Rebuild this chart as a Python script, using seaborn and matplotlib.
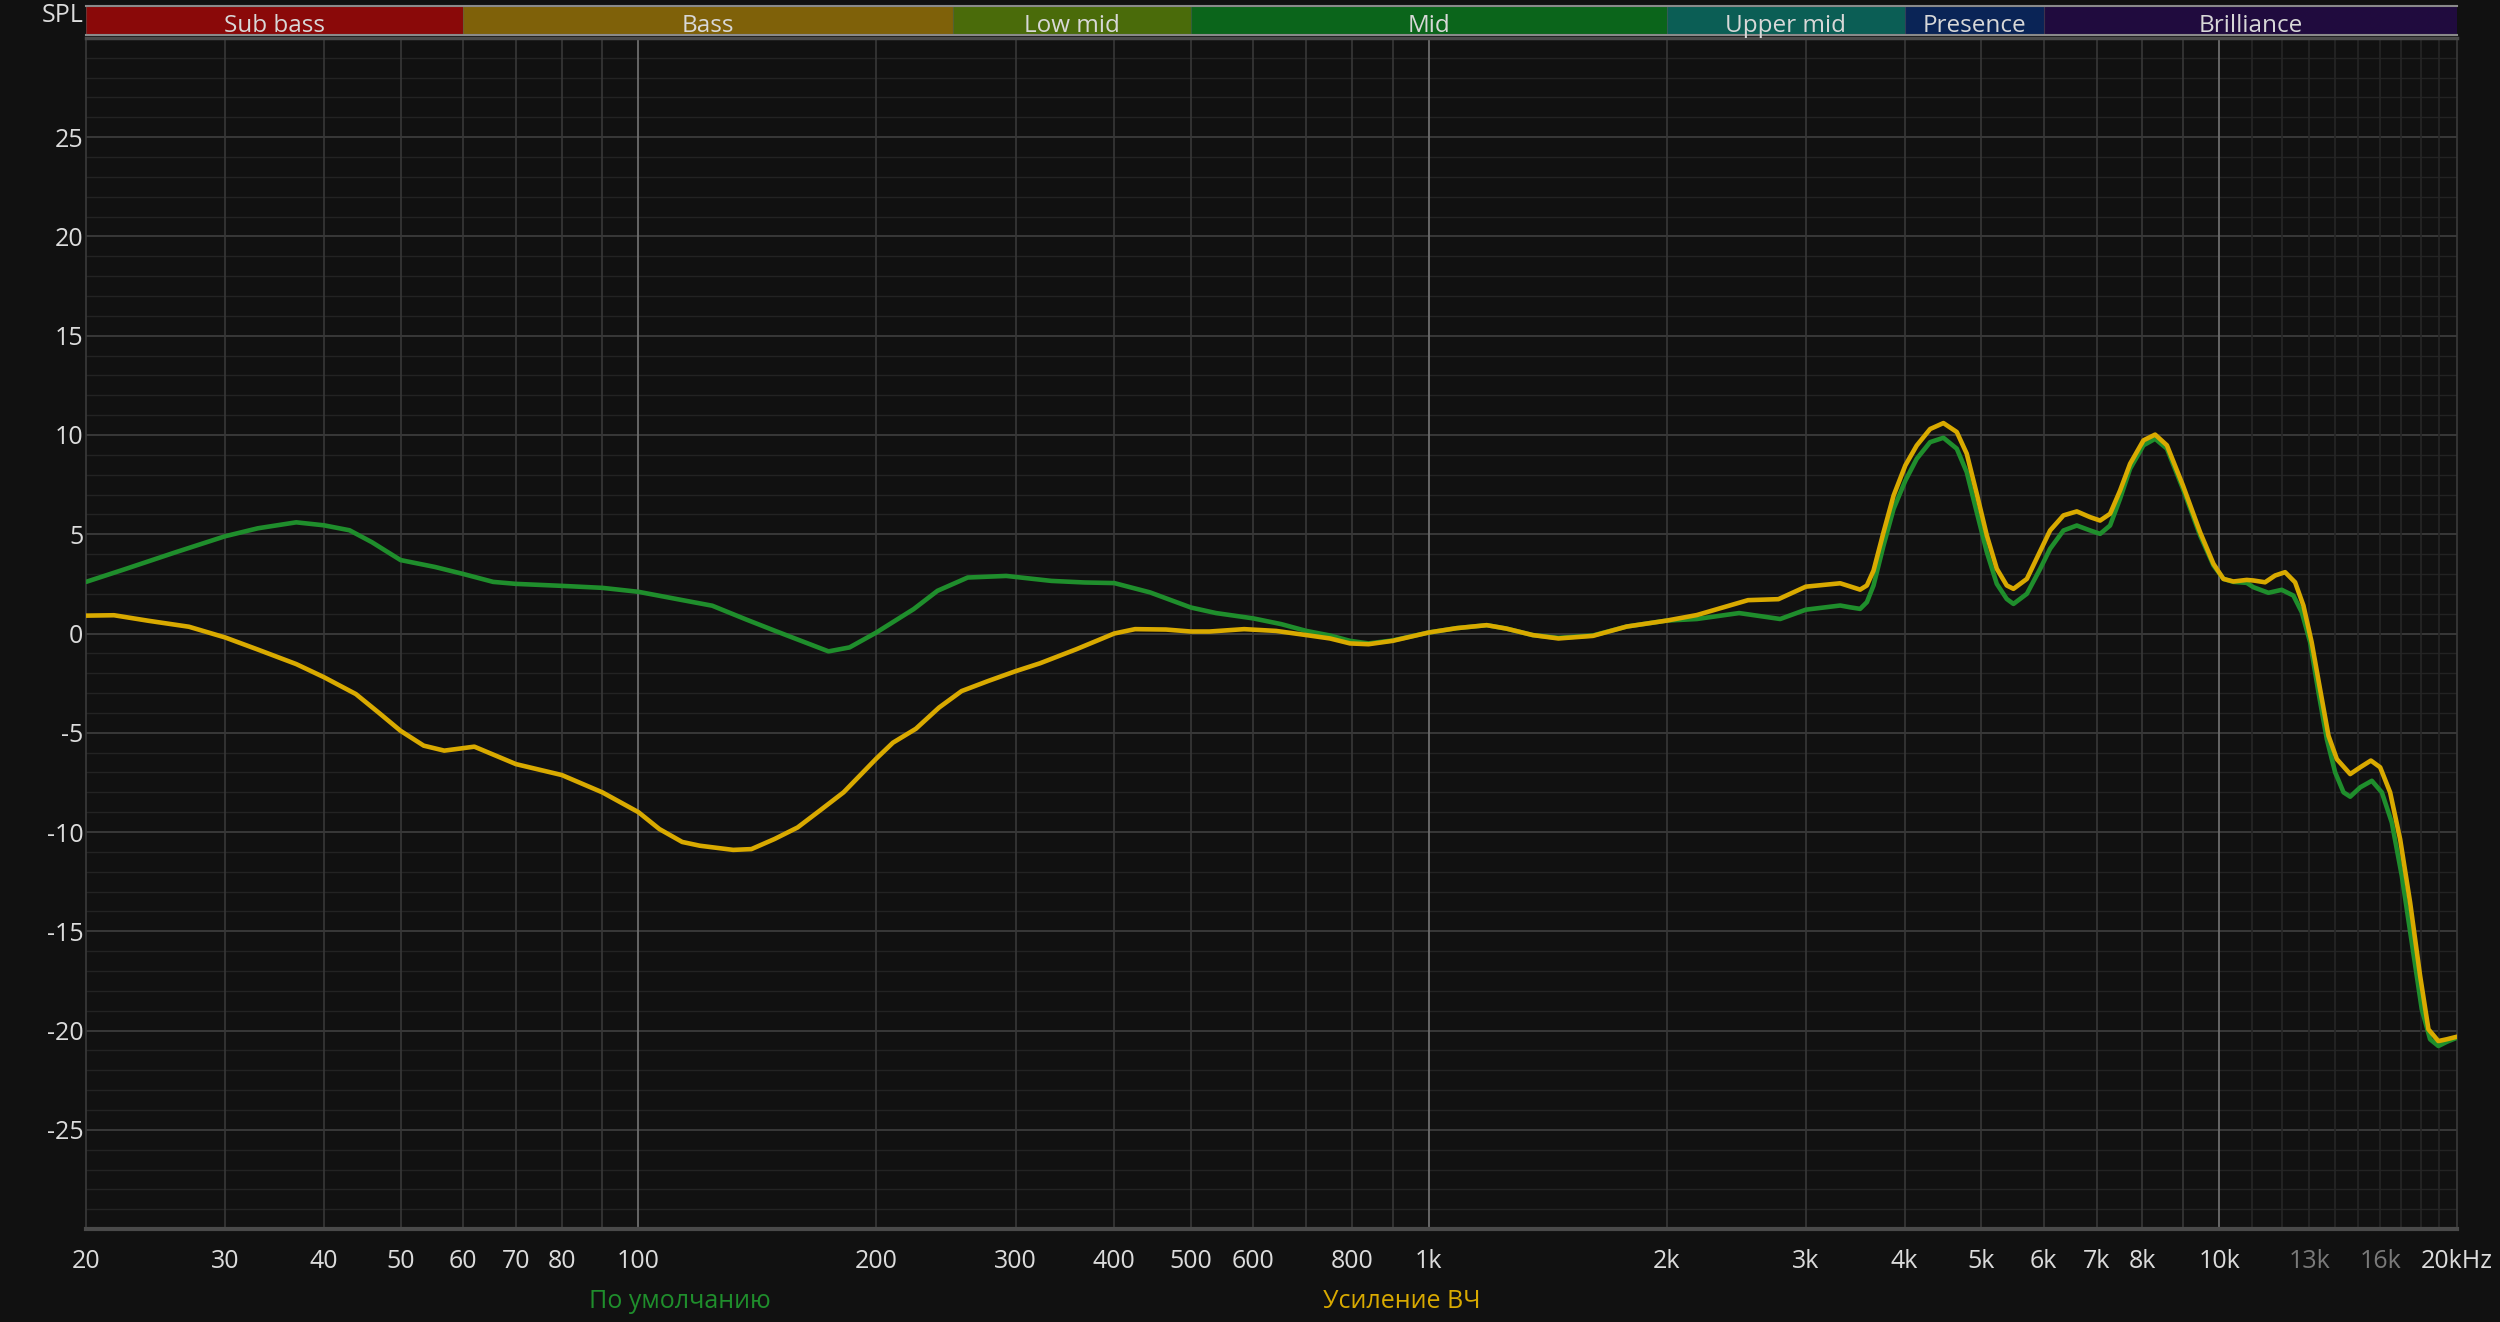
import numpy as np
import pandas as pd
import matplotlib
matplotlib.use("Agg")
import matplotlib.pyplot as plt
import seaborn as sns

# Frequency bands shown in the strip above the plot
band_names = ["Sub bass", "Bass", "Low mid", "Mid", "Upper mid", "Presence", "Brilliance"]
band_edges = [20, 60, 250, 500, 2000, 4000, 6000, 20000]
band_colors = ["#8a0909", "#7f6109", "#4a6b0a", "#0b651b", "#0b5e55", "#0a2456", "#200b3e"]

# X tick labels
tick_freqs = [20, 30, 40, 50, 60, 70, 80, 100, 200, 300, 400, 500, 600, 800,
              1000, 2000, 3000, 4000, 5000, 6000, 7000, 8000, 10000, 13000, 16000, 20000]
tick_labels = ["20", "30", "40", "50", "60", "70", "80", "100", "200", "300", "400", "500", "600", "800",
               "1k", "2k", "3k", "4k", "5k", "6k", "7k", "8k", "10k", "13k", "16k", "20kHz"]
dim_labels = ["13k", "16k"]
y_ticks = [25, 20, 15, 10, 5, 0, -5, -10, -15, -20, -25]

# Series names
series_names = ["По умолчанию", "Усиление ВЧ"]
series_colors = ["#1f8e2c", "#d9aa00"]

# "По умолчанию" (default) response
default_freq = [20, 22.4, 26, 30, 33, 36.9, 40, 43.1, 46, 50, 55.3, 60, 65.5, 70, 80, 90, 100,
                112, 124, 137, 149, 174, 185, 200, 223, 239, 261, 292, 333, 367, 400, 444, 500,
                538, 600, 651, 700, 750, 795, 839, 900, 1000, 1085, 1184, 1253, 1354, 1459, 1613,
                1780, 2000, 2184, 2470, 2784, 3000, 3316, 3414, 3514, 3584, 3654, 3762, 3874, 4009,
                4144, 4309, 4479, 4657, 4794, 4936, 5083, 5233, 5387, 5493, 5712, 5938, 6112, 6355,
                6607, 6869, 7071, 7279, 7494, 7716, 8023, 8300, 8590, 9000, 9462, 9837, 10127,
                10425, 10840, 11054, 11546, 12000, 12417, 12725, 13037, 13358, 13687, 14025, 14370,
                14652, 15085, 15606, 16066, 16540, 17028, 17532, 18049, 18492, 18944, 19410, 20000]
default_db = [2.6, 3.24, 4.1, 4.9, 5.3, 5.6, 5.45, 5.2, 4.6, 3.7, 3.35, 3.0, 2.6, 2.5, 2.4, 2.3, 2.1,
              1.73, 1.4, 0.7, 0.13, -0.9, -0.7, 0.05, 1.23, 2.15, 2.82, 2.9, 2.65, 2.57, 2.54, 2.07, 1.31,
              1.03, 0.76, 0.47, 0.13, -0.1, -0.37, -0.5, -0.35, 0.05, 0.27, 0.42, 0.25, -0.08, -0.22, -0.1,
              0.35, 0.65, 0.73, 1.03, 0.73, 1.2, 1.41, 1.32, 1.24, 1.58, 2.42, 4.43, 6.28, 7.7,
              8.8, 9.64, 9.86, 9.31, 8.13, 6.11, 4.1, 2.5, 1.74, 1.49, 2.0, 3.26, 4.27, 5.19,
              5.44, 5.19, 5.02, 5.44, 6.79, 8.3, 9.48, 9.81, 9.31, 7.29, 4.94, 3.43, 2.75,
              2.6, 2.55, 2.33, 2.05, 2.2, 1.91, 1.07, -0.44, -2.96, -5.32, -7.0, -8.0,
              -8.22, -7.75, -7.42, -8.0, -9.52, -12.2, -15.57, -18.93, -20.44, -20.78, -20.57, -20.36]

# "Усиление ВЧ" (treble boost) response
treble_freq = [20, 21.7, 24, 27, 30, 32.9, 36.9, 40, 43.9, 46.9, 50, 53.5, 56.8, 62, 70, 80, 90, 100,
               106.3, 113.6, 119.6, 131.8, 139, 148.7, 159, 169.9, 181.8, 190.7, 200, 209.9, 224.4,
               240.1, 256.4, 276.7, 300, 322.2, 357.8, 400, 425, 465, 500, 528, 584, 641, 700, 750,
               795, 839, 900, 1000, 1085, 1184, 1253, 1354, 1459, 1613, 1780, 2000, 2184, 2535, 2770,
               3000, 3316, 3414, 3514, 3584, 3654, 3762, 3874, 4009, 4144, 4309, 4479, 4657, 4794,
               4936, 5083, 5233, 5387, 5493, 5712, 5938, 6112, 6355, 6607, 6869, 7071, 7279, 7494,
               7716, 8023, 8300, 8590, 9000, 9462, 9837, 10127, 10425, 10840, 11054, 11433, 11772,
               12121, 12479, 12785, 13096, 13420, 13754, 14094, 14652, 15085, 15562, 15989, 16459,
               16946, 17447, 17963, 18405, 18944, 19410, 20000]
treble_db = [0.9, 0.92, 0.64, 0.34, -0.2, -0.79, -1.54, -2.2, -3.05, -3.98, -4.9, -5.65, -5.9, -5.7,
             -6.58, -7.13, -8.0, -9.0,
             -9.85, -10.5, -10.69, -10.9, -10.86, -10.35, -9.77, -8.9, -8.0, -7.15, -6.3, -5.5, -4.8,
             -3.73, -2.9, -2.4, -1.9, -1.5, -0.8, 0.0, 0.22, 0.2, 0.1, 0.1, 0.22, 0.13, -0.08, -0.25,
             -0.5, -0.54, -0.37, 0.05, 0.27, 0.42, 0.25, -0.08, -0.25, -0.12, 0.35, 0.65, 0.93, 1.68, 1.73,
             2.36, 2.53, 2.37, 2.21, 2.42, 3.17, 5.1, 6.95, 8.47, 9.47, 10.3, 10.6, 10.15, 9.06,
             7.04, 4.94, 3.26, 2.42, 2.25, 2.75, 4.15, 5.19, 5.95, 6.15, 5.86, 5.69, 6.03, 7.2,
             8.55, 9.73, 10.02, 9.48, 7.46, 5.1, 3.51, 2.75, 2.62, 2.7, 2.67, 2.58, 2.92,
             3.09, 2.58, 1.41, -0.44, -2.8, -5.15, -6.33, -7.08, -6.74, -6.4, -6.74, -8.0,
             -10.36, -13.55, -17.25, -19.94, -20.53, -20.44, -20.31]

bg = "#111111"
text_color = "#dcdcdc"

sns.set_theme(style="dark", rc={"figure.facecolor": bg, "axes.facecolor": bg})
plt.rcParams["font.family"] = ["Open Sans", "DejaVu Sans"]

df = pd.concat([
    pd.DataFrame({"freq": default_freq, "spl": default_db, "series": series_names[0]}),
    pd.DataFrame({"freq": treble_freq, "spl": treble_db, "series": series_names[1]}),
])

fig = plt.figure(figsize=(25, 13.22), dpi=100)
ax = fig.add_axes([0.0344, 0.0703, 0.9484, 0.901])
band_ax = fig.add_axes([0.0344, 0.9735, 0.9484, 0.0219])

# Grid: horizontal
for v in range(-30, 31):
    if v % 5 == 0:
        ax.axhline(v, color="#3c3c3c", lw=1.3, zorder=0.5)
    else:
        ax.axhline(v, color="#232323", lw=1.0, zorder=0.4)

# Grid: vertical
grid_freqs = list(range(30, 100, 10)) + list(range(200, 1000, 100)) + list(range(2000, 10000, 1000))
for f in grid_freqs:
    ax.axvline(f, color="#383838", lw=1.2, zorder=0.5)
for f in range(11000, 20000, 1000):
    ax.axvline(f, color="#262626", lw=1.2, zorder=0.5)
for f in [100, 1000, 10000]:
    ax.axvline(f, color="#6e6e6e", lw=1.3, zorder=0.6)

sns.lineplot(data=df, x="freq", y="spl", hue="series", hue_order=series_names,
             palette=series_colors, estimator=None, sort=False, linewidth=3.3,
             solid_joinstyle="round", legend=False, ax=ax, zorder=3)

ax.set_xscale("log")
ax.set_xlim(20, 20000)
ax.set_ylim(-30, 30)
ax.set_xticks(tick_freqs)
ax.set_xticklabels(tick_labels)
ax.xaxis.set_minor_locator(matplotlib.ticker.NullLocator())
ax.set_yticks(y_ticks)
ax.set_yticklabels([str(v) for v in y_ticks])
ax.tick_params(axis="x", length=0, pad=14, labelsize=18, labelcolor=text_color)
ax.tick_params(axis="y", length=0, pad=2, labelsize=18, labelcolor=text_color)
for lbl in ax.get_xticklabels():
    if lbl.get_text() in dim_labels:
        lbl.set_color("#7a7a7a")
ax.set_xlabel("")
ax.set_ylabel("")
ax.grid(False)
for side in ["left", "right"]:
    ax.spines[side].set_color("#3a3a3a")
    ax.spines[side].set_linewidth(1.2)
ax.spines["bottom"].set_color("#4a4a4a")
ax.spines["bottom"].set_linewidth(3)
ax.spines["top"].set_color("#4a4a4a")
ax.spines["top"].set_linewidth(2.5)

# Band strip
band_ax.set_xscale("log")
band_ax.set_xlim(20, 20000)
band_ax.set_ylim(0, 1)
for name, lo, hi, c in zip(band_names, band_edges[:-1], band_edges[1:], band_colors):
    band_ax.axvspan(lo, hi, color=c, lw=0)
    band_ax.axvline(lo, color="#5a5a5a", lw=0.8, alpha=0.5)
    band_ax.text(np.sqrt(lo * hi), 0.3, name, ha="center", va="center",
                 fontsize=17.5, color="#d8d8d8")
band_ax.set_xticks([])
band_ax.set_yticks([])
band_ax.xaxis.set_minor_locator(matplotlib.ticker.NullLocator())
for side in ["left", "right"]:
    band_ax.spines[side].set_visible(False)
for side in ["top", "bottom"]:
    band_ax.spines[side].set_color("#8a8a8a")
    band_ax.spines[side].set_linewidth(1.5)

fig.text(0.0336, 1 - 15 / 1322, "SPL", ha="right", va="center", fontsize=18, color=text_color)
fig.text(680 / 2500, 1 - 1301 / 1322, series_names[0], ha="center", va="center",
         fontsize=18, color=series_colors[0])
fig.text(1402 / 2500, 1 - 1301 / 1322, series_names[1], ha="center", va="center",
         fontsize=18, color=series_colors[1])

fig.savefig("out.png", dpi=100, facecolor=bg)
